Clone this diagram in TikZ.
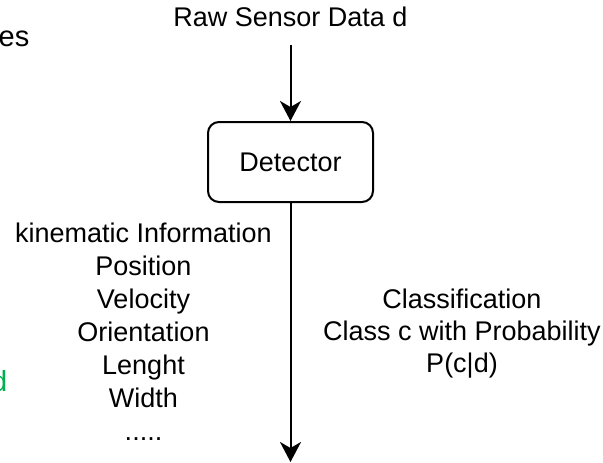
\documentclass[tikz,border=0pt]{standalone}
\usepackage{fontspec}
\setmainfont{Liberation Sans}
\usetikzlibrary{arrows.meta}
\definecolor{labelgreen}{RGB}{0,176,80}
\tikzset{
  txt/.style={font=\fontsize{27}{33}\selectfont, inner sep=0pt, align=center},
  bigtxt/.style={font=\fontsize{29}{35}\selectfont, inner sep=0pt},
  procbox/.style={draw, line width=2pt, rounded corners=11pt, minimum width=165pt,
    minimum height=80pt, font=\fontsize{27}{33}\selectfont},
  flow/.style={line width=2pt, -{Stealth[length=20pt, width=21pt, inset=6pt]}}
}
\begin{document}
\begin{tikzpicture}[x=1pt, y=-1pt]
  \useasboundingbox (0,0) rectangle (603,463);

  % partial labels at the left edge
  \node[bigtxt, anchor=base east] (lefttop) at (29.5,46) {es};
  \node[bigtxt, anchor=base east, text=labelgreen] (leftgreen) at (7.5,391) {d};

  % input, detector, output
  \node[txt, anchor=south, inner ysep=18pt] (raw) at (290.5,45) {Raw Sensor Data d};
  \node[procbox] (det) at (290.5,162) {Detector};
  \coordinate (out) at (290.5,462);

  \draw[flow] (raw.south -| det.north) -- (det.north);
  \draw[flow] (det.south) -- (out);

  % outputs of the detector (anchored on the baseline of the last line)
  \node[txt, anchor=base] (kin) at (143.5,440)
    {kinematic Information\\Position\\Velocity\\Orientation\\Lenght\\Width\\.....};
  \node[txt, anchor=base, font=\fontsize{27}{32}\selectfont] (cls) at (462,372)
    {Classification\\Class c with Probability\\P(c|d)};
\end{tikzpicture}
\end{document}
